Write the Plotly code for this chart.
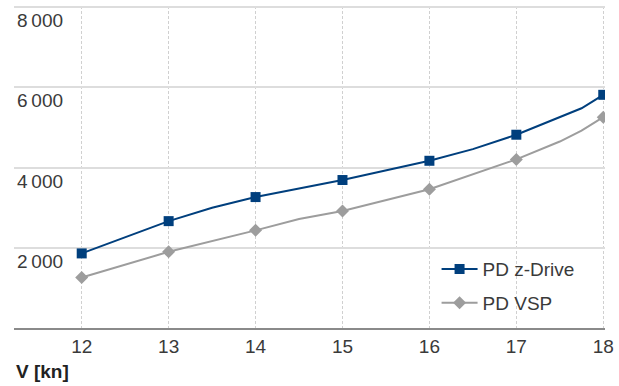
import plotly.graph_objects as go

# Vessel speed [kn] and the power demand of each propulsion variant
zdrive_speed = [12, 13, 13.5, 14, 15, 16, 16.5, 17, 17.75, 18]
zdrive_power = [1860, 2665, 3000, 3265, 3690, 4170, 4460, 4820, 5480, 5815]

vsp_speed = [12, 13, 14, 14.5, 15, 16, 17, 17.5, 17.75, 18]
vsp_power = [1260, 1900, 2435, 2720, 2920, 3460, 4205, 4650, 4920, 5257]

x_ticks = [12, 13, 14, 15, 16, 17, 18]
y_ticks = [2000, 4000, 6000, 8000]
y_ticktext = ["2\u2009000", "4\u2009000", "6\u2009000", "8\u2009000"]

BLUE = "#003f7d"
GREY = "#9d9d9d"
FONT = "Liberation Sans"
TEXT = "#3a3a3a"


def marker_colors(speeds, color):
    # markers only at whole-knot measurement points
    return [color if float(s).is_integer() else "rgba(0,0,0,0)" for s in speeds]


fig = go.Figure()
fig.add_trace(go.Scatter(
    x=zdrive_speed, y=zdrive_power, name="PD z-Drive",
    mode="lines+markers",
    line=dict(color=BLUE, width=2),
    marker=dict(symbol="square", size=10, color=marker_colors(zdrive_speed, BLUE)),
    legendgroup="a",
))
fig.add_trace(go.Scatter(
    x=vsp_speed, y=vsp_power, name="PD VSP",
    mode="lines+markers",
    line=dict(color=GREY, width=2),
    marker=dict(symbol="diamond", size=10, color=marker_colors(vsp_speed, GREY)),
    legendgroup="b",
))

fig.update_layout(
    width=619, height=386,
    margin=dict(l=14, r=14, t=6, b=58),
    paper_bgcolor="white", plot_bgcolor="white",
    font=dict(family=FONT, size=19, color=TEXT),
    showlegend=True,
    legend=dict(
        x=0.715, xanchor="left", y=0.13, yanchor="middle",
        bgcolor="rgba(255,255,255,0)",
        font=dict(family=FONT, size=19, color=TEXT),
        tracegroupgap=6, itemwidth=36,
    ),
    annotations=[dict(
        text="<b>V [kn]</b>", xref="paper", yref="paper",
        x=0, xanchor="left", y=-0.135, yanchor="middle",
        showarrow=False, font=dict(family=FONT, size=19, color="#222222"),
    )],
)

fig.update_xaxes(
    range=[11.221, 18.02],
    tickvals=x_ticks, ticktext=[str(v) for v in x_ticks],
    showgrid=True, gridcolor="#d0d0d0", gridwidth=1, griddash="3px,2px",
    showline=True, linecolor="#8a8a8a", linewidth=2,
    ticks="", zeroline=False,
    tickfont=dict(family=FONT, size=19, color=TEXT),
)
fig.update_yaxes(
    range=[0, 8030],
    tickvals=y_ticks, ticktext=y_ticktext,
    ticklabelposition="inside bottom",
    showgrid=True, gridcolor="#dddddd", gridwidth=2,
    showline=False, ticks="", zeroline=False,
    tickfont=dict(family=FONT, size=19, color=TEXT),
)

fig.write_html("out.html")
